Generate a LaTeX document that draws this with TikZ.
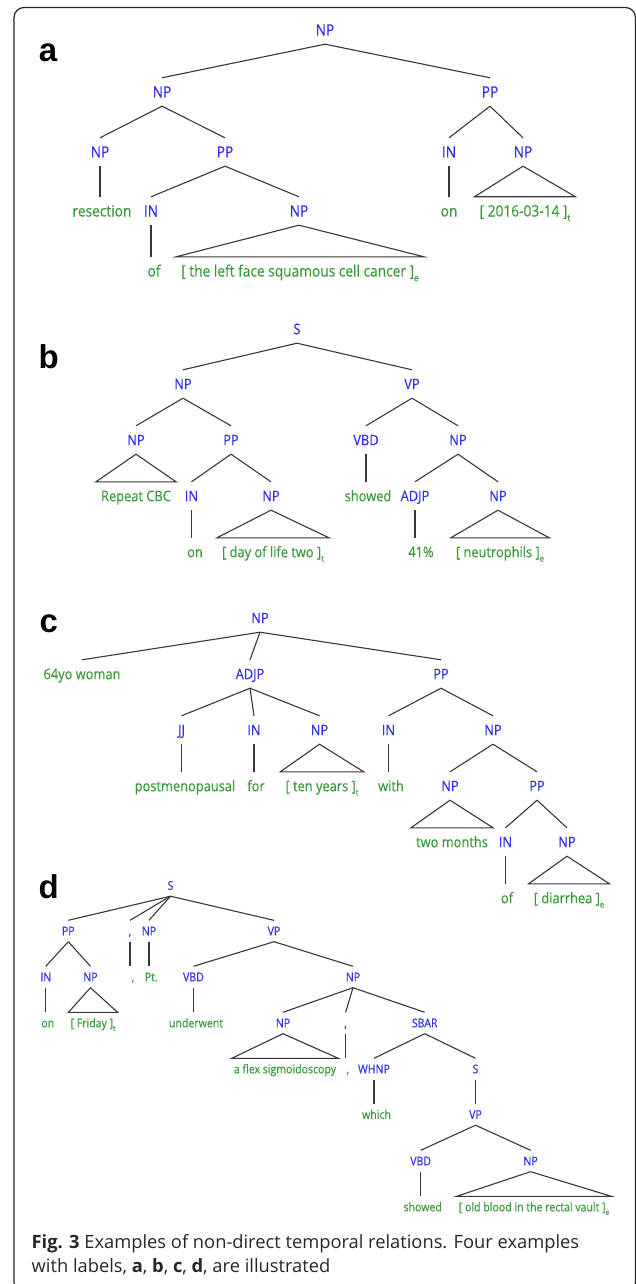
\documentclass[tikz,border=0pt]{standalone}
\usepackage{fontspec}
\setmainfont{Open Sans}
\newfontfamily\treefont[FakeStretch=0.88,FakeBold=0.35]{Open Sans}
\newfontfamily\panelfont{Liberation Sans}
\definecolor{tblue}{RGB}{48,48,240}
\definecolor{tgreen}{RGB}{58,154,58}
\definecolor{lgray}{RGB}{55,55,55}
\newcommand\lowidx[1]{\raisebox{-0.3em}{\scalebox{0.6}{#1}}}
\tikzset{
  lab/.style={inner xsep=0pt, inner ysep=0pt, minimum height=28pt, text height=10.4pt, text depth=0pt,
    font=\treefont\fontsize{14.6}{14.6}\selectfont},
  cat/.style={lab, text=tblue},
  wrd/.style={lab, text=tgreen},
  laba/.style={inner xsep=0pt, inner ysep=0pt, minimum height=28pt, text height=11pt, text depth=0pt,
    font=\treefont\fontsize{15.6}{15.6}\selectfont},
  cata/.style={laba, text=tblue},
  wrda/.style={laba, text=tgreen},
  labd/.style={inner xsep=0pt, inner ysep=0pt, minimum height=21pt, text height=8.6pt, text depth=0pt,
    font=\treefont\fontsize{12}{12}\selectfont},
  catd/.style={labd, text=tblue},
  wrdd/.style={labd, text=tgreen},
  tri/.style={inner xsep=5pt},
  trid/.style={inner xsep=2pt},
  edge/.style={draw=lgray, line width=1.1pt, line join=miter},
  panel/.style={inner sep=0pt, font=\panelfont\bfseries\fontsize{33}{33}\selectfont},
  capt/.style={anchor=base west, inner sep=0pt, text=black!85, font=\fontsize{18.3}{18.3}\selectfont},
}
\begin{document}
\begin{tikzpicture}[x=1pt,y=-1pt]
\useasboundingbox (0,0) rectangle (636,1284);
\clip (0,0) rectangle (636,1284);
\draw[line width=1.2pt, black!85, rounded corners=10pt] (14,7.5) rectangle (635.5,1292);

% panel letters
\node[panel] (pa) at (48,53) {a};
\node[panel] (pb) at (48.7,356.7) {b};
\node[panel] (pc) at (48.7,624) {c};
\node[panel] (pd) at (48.7,886.7) {d};

% ---------- tree a ----------
\node[cata] (a0) at (325,30) {NP};
\node[cata] (a1) at (162,92) {NP};
\node[cata] (a2) at (490,92) {PP};
\node[cata] (a3) at (100,152) {NP};
\node[cata] (a4) at (225,152) {PP};
\node[cata] (a5) at (449,152) {IN};
\node[cata] (a6) at (523,152) {NP};
\node[wrda] (a7) at (102,211) {resection};
\node[cata] (a8) at (151,211) {IN};
\node[cata] (a9) at (299,211) {NP};
\node[wrda] (a10) at (449,211) {on};
\node[wrda,tri] (a11) at (525,211) {[ 2016-03-14 ]\lowidx{t}};
\node[wrda] (a12) at (154,271) {of};
\node[wrda,tri] (a13) at (300,271) {[ the left face squamous cell cancer ]\lowidx{e}};
\draw[edge] (a0.south) -- (a1.north);
\draw[edge] (a0.south) -- (a2.north);
\draw[edge] (a1.south) -- (a3.north);
\draw[edge] (a1.south) -- (a4.north);
\draw[edge] (a2.south) -- (a5.north);
\draw[edge] (a2.south) -- (a6.north);
\draw[edge] (a3.south) -- (a3.south |- a7.north);
\draw[edge] (a4.south) -- (a8.north);
\draw[edge] (a4.south) -- (a9.north);
\draw[edge] (a5.south) -- (a5.south |- a10.north);
\draw[edge] (a6.south) -- (a11.north west) -- (a11.north east) -- cycle;
\draw[edge] (a8.south) -- (a8.south |- a12.north);
\draw[edge] (a9.south) -- (a13.north west) -- (a13.north east) -- cycle;

% ---------- tree b ----------
\node[cat] (b0) at (297,329) {S};
\node[cat] (b1) at (183,384) {NP};
\node[cat] (b2) at (412,384) {VP};
\node[cat] (b3) at (136,440) {NP};
\node[cat] (b4) at (231,440) {PP};
\node[cat] (b5) at (366,440) {VBD};
\node[cat] (b6) at (458,440) {NP};
\node[wrd,tri] (b7) at (136,496) {Repeat CBC};
\node[cat] (b8) at (191.5,496) {IN};
\node[cat] (b9) at (271,496) {NP};
\node[wrd] (b10) at (368,496) {showed};
\node[cat] (b11) at (415,496) {ADJP};
\node[cat] (b12) at (498,496) {NP};
\node[wrd] (b13) at (195,552) {on};
\node[wrd,tri] (b14) at (273,552) {[ day of life two ]\lowidx{t}};
\node[wrd] (b15) at (421,552) {41\%};
\node[wrd,tri] (b16) at (500,552) {[ neutrophils ]\lowidx{e}};
\draw[edge] (b0.south) -- (b1.north);
\draw[edge] (b0.south) -- (b2.north);
\draw[edge] (b1.south) -- (b3.north);
\draw[edge] (b1.south) -- (b4.north);
\draw[edge] (b2.south) -- (b5.north);
\draw[edge] (b2.south) -- (b6.north);
\draw[edge] (b3.south) -- (b7.north west) -- (b7.north east) -- cycle;
\draw[edge] (b4.south) -- (b8.north);
\draw[edge] (b4.south) -- (b9.north);
\draw[edge] (b5.south) -- (b5.south |- b10.north);
\draw[edge] (b6.south) -- (b11.north);
\draw[edge] (b6.south) -- (b12.north);
\draw[edge] (b8.south) -- (b8.south |- b13.north);
\draw[edge] (b9.south) -- (b14.north west) -- (b14.north east) -- cycle;
\draw[edge] (b11.south) -- (b11.south |- b15.north);
\draw[edge] (b12.south) -- (b16.north west) -- (b16.north east) -- cycle;

% ---------- tree c ----------
\node[cat] (c0) at (260,618) {NP};
\node[wrd] (c1) at (82,674) {64yo woman};
\node[cat] (c2) at (250,674) {ADJP};
\node[cat] (c3) at (441,674) {PP};
\node[cat] (c4) at (181.5,730) {JJ};
\node[cat] (c5) at (254,730) {IN};
\node[cat] (c6) at (319.5,730) {NP};
\node[cat] (c7) at (388.5,730) {IN};
\node[cat] (c8) at (493,730) {NP};
\node[wrd] (c9) at (185,786) {postmenopausal};
\node[wrd] (c10) at (256,786) {for};
\node[wrd,tri] (c11) at (322,786) {[ ten years ]\lowidx{t}};
\node[wrd] (c12) at (391,786) {with};
\node[cat] (c13) at (450,786) {NP};
\node[cat] (c14) at (537,786) {PP};
\node[wrd,tri] (c15) at (452,842) {two months};
\node[cat] (c16) at (505.5,842) {IN};
\node[cat] (c17) at (567,842) {NP};
\node[wrd] (c18) at (507,898) {of};
\node[wrd,tri] (c19) at (569,898) {[ diarrhea ]\lowidx{e}};
\draw[edge] (c0.south) -- (c1.north);
\draw[edge] (c0.south) -- (c2.north);
\draw[edge] (c0.south) -- (c3.north);
\draw[edge] (c2.south) -- (c4.north);
\draw[edge] (c2.south) -- (c5.north);
\draw[edge] (c2.south) -- (c6.north);
\draw[edge] (c3.south) -- (c7.north);
\draw[edge] (c3.south) -- (c8.north);
\draw[edge] (c4.south) -- (c4.south |- c9.north);
\draw[edge] (c5.south) -- (c5.south |- c10.north);
\draw[edge] (c6.south) -- (c11.north west) -- (c11.north east) -- cycle;
\draw[edge] (c7.south) -- (c7.south |- c12.north);
\draw[edge] (c8.south) -- (c13.north);
\draw[edge] (c8.south) -- (c14.north);
\draw[edge] (c13.south) -- (c15.north west) -- (c15.north east) -- cycle;
\draw[edge] (c14.south) -- (c16.north);
\draw[edge] (c14.south) -- (c17.north);
\draw[edge] (c16.south) -- (c16.south |- c18.north);
\draw[edge] (c17.south) -- (c19.north west) -- (c19.north east) -- cycle;

% ---------- tree d ----------
\node[catd] (d0) at (170.5,885.5) {S};
\node[catd] (d1) at (68.3,931) {PP};
\node[catd] (d2) at (130,931) {,};
\node[catd] (d3) at (149,931) {NP};
\node[catd] (d4) at (274,931) {VP};
\node[catd] (d5) at (45.8,977) {IN};
\node[catd] (d6) at (90.5,977) {NP};
\node[wrdd] (d7) at (133,977) {,};
\node[wrdd] (d8) at (151.3,977) {Pt.};
\node[catd] (d9) at (193.5,977) {VBD};
\node[catd] (d10) at (353,977) {NP};
\node[wrdd] (d11) at (47.8,1023) {on};
\node[wrdd,trid] (d12) at (93,1023) {[ Friday ]\lowidx{t}};
\node[wrdd] (d13) at (196,1023) {underwent};
\node[catd] (d14) at (283,1023) {NP};
\node[catd] (d15) at (345.6,1023) {,};
\node[catd] (d16) at (424.7,1023) {SBAR};
\node[wrdd,trid] (d17) at (285,1069) {a flex sigmoidoscopy};
\node[wrdd] (d18) at (348,1069) {,};
\node[catd] (d19) at (374,1069) {WHNP};
\node[catd] (d20) at (475.5,1069) {S};
\node[wrdd] (d21) at (376.5,1114.5) {which};
\node[catd] (d22) at (475.5,1114.5) {VP};
\node[catd] (d23) at (420.7,1161) {VBD};
\node[catd] (d24) at (530.6,1161) {NP};
\node[wrdd] (d25) at (422.7,1207) {showed};
\node[wrdd,trid] (d26) at (534,1207) {[ old blood in the rectal vault ]\lowidx{e}};
\draw[edge] (d0.south) -- (d1.north);
\draw[edge] (d0.south) -- (d2.north);
\draw[edge] (d0.south) -- (d3.north);
\draw[edge] (d0.south) -- (d4.north);
\draw[edge] (d1.south) -- (d5.north);
\draw[edge] (d1.south) -- (d6.north);
\draw[edge] (d2.south) -- (d2.south |- d7.north);
\draw[edge] (d3.south) -- (d3.south |- d8.north);
\draw[edge] (d4.south) -- (d9.north);
\draw[edge] (d4.south) -- (d10.north);
\draw[edge] (d5.south) -- (d5.south |- d11.north);
\draw[edge] (d6.south) -- (d12.north west) -- (d12.north east) -- cycle;
\draw[edge] (d9.south) -- (d9.south |- d13.north);
\draw[edge] (d10.south) -- (d14.north);
\draw[edge] (d10.south) -- (d15.north);
\draw[edge] (d10.south) -- (d16.north);
\draw[edge] (d14.south) -- (d17.north west) -- (d17.north east) -- cycle;
\draw[edge] (d15.south) -- (d15.south |- d18.north);
\draw[edge] (d16.south) -- (d19.north);
\draw[edge] (d16.south) -- (d20.north);
\draw[edge] (d19.south) -- (d19.south |- d21.north);
\draw[edge] (d20.south) -- (d20.south |- d22.north);
\draw[edge] (d22.south) -- (d23.north);
\draw[edge] (d22.south) -- (d24.north);
\draw[edge] (d23.south) -- (d23.south |- d25.north);
\draw[edge] (d24.south) -- (d26.north west) -- (d26.north east) -- cycle;

% caption
\node[capt] (cap1) at (31.5,1248) {\textbf{Fig. 3} Examples of non-direct temporal relations. Four examples};
\node[capt] (cap2) at (31.5,1272) {with labels, \textbf{a}, \textbf{b}, \textbf{c}, \textbf{d}, are illustrated};
\end{tikzpicture}
\end{document}
